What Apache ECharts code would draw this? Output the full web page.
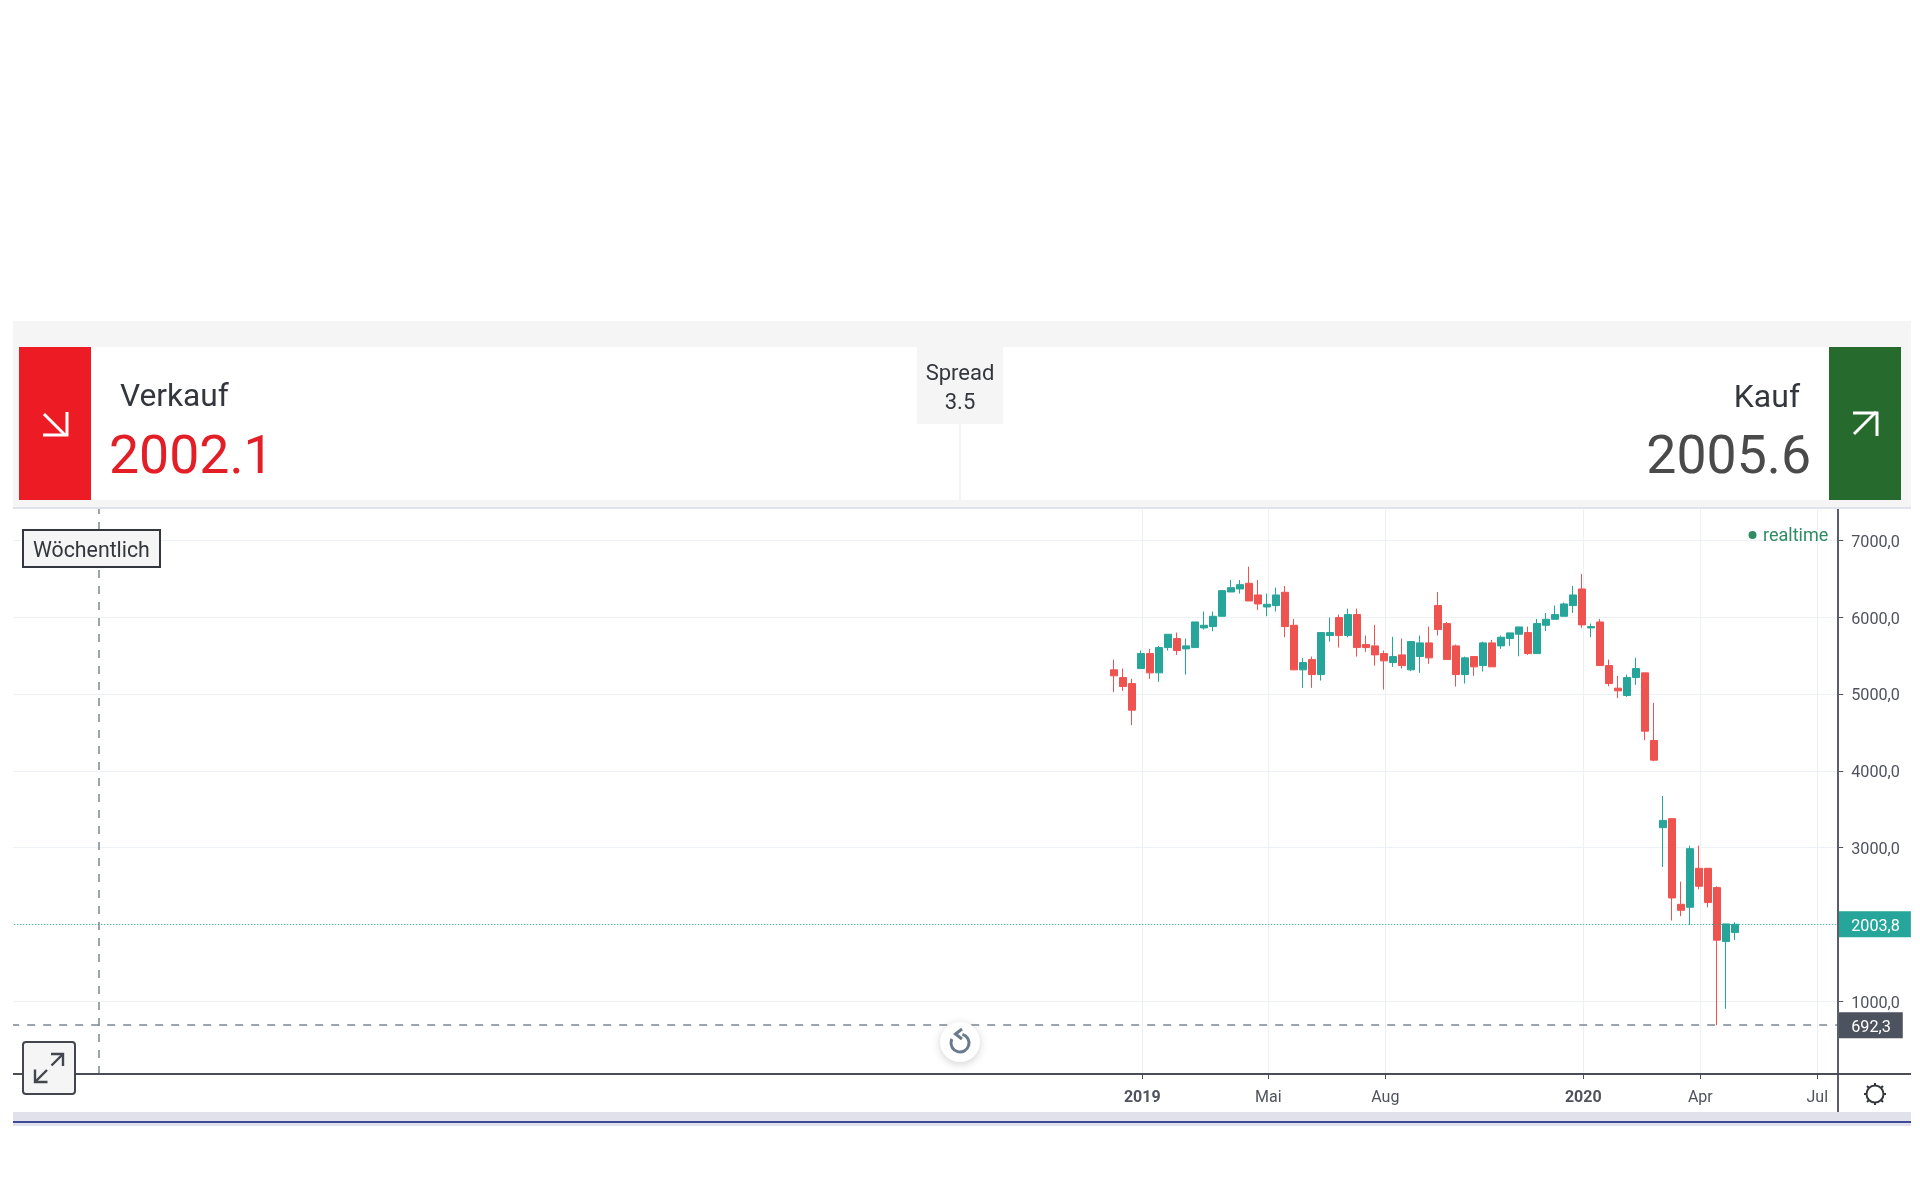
<!DOCTYPE html>
<html>
<head>
<meta charset="utf-8">
<title>Chart</title>
<script src="https://cdn.jsdelivr.net/npm/echarts@6/dist/echarts.min.js"></script>
<style>
html, body { margin: 0; padding: 0; background: #fff; }
#main { width: 1920px; height: 1200px; }
</style>
</head>
<body>
<div id="main"></div>
<script>
// weekly candles
var opens = [5312,5212,5134,5329,5524,5273,5602,5719,5585,5602,5858,5875,6009,6325,6364,6438,6286,6130,6148,6321,5892,5312,5446,5251,5758,5992,5758,6031,5641,5624,5524,5407,5507,5312,5485,5663,6148,5914,5624,5251,5485,5368,5663,5624,5719,5775,5797,5524,5892,5970,6009,6148,6364,5858,5935,5368,5074,4979,5212,5273,4394,3260,3377,2264,2225,2732,2732,2481,1779,1896];
var closes = [5234,5095,4788,5524,5273,5602,5775,5563,5624,5935,5892,6009,6342,6381,6420,6208,6169,6165,6286,5875,5312,5407,5251,5797,5797,5758,6031,5602,5602,5507,5429,5485,5368,5680,5663,5468,5836,5446,5251,5468,5351,5663,5351,5736,5793,5870,5524,5914,5970,6031,6169,6286,5897,5875,5368,5134,5039,5212,5329,4515,4138,3355,2346,2186,2987,2498,2286,1797,2009,2003.8];
var lows = [5022,5039,4593,5329,5195,5156,5563,5507,5251,5602,5836,5814,6009,6325,6304,6208,6091,6009,6070,5736,5312,5078,5078,5173,5680,5602,5736,5485,5546,5368,5056,5351,5329,5295,5273,5390,5758,5446,5095,5134,5234,5290,5351,5585,5624,5489,5507,5524,5819,5970,6009,6052,5858,5736,5368,5100,4944,4961,5117,4398,4125,2749,2052,2108,1996,2459,2225,692.3,905,1797];
var highs = [5446,5329,5195,5563,5585,5624,5775,5797,5719,5935,6070,6070,6342,6481,6481,6654,6481,6304,6381,6403,5974,5468,5485,5797,5992,6031,6109,6109,5758,5897,5563,5741,5719,5680,5758,5875,6325,5935,5641,5485,5485,5680,5702,5758,5793,5870,5875,5974,6052,6148,6187,6403,6559,5914,5974,5446,5234,5251,5468,5273,4883,3672,3377,2559,3026,3026,2732,2498,2009,2030];
var firstCandleSlot = 122;
var slotCount = 203;

var tickSlots = [125, 139, 152, 174, 187, 200];
var tickLabels = ['2019', 'Mai', 'Aug', '2020', 'Apr', 'Jul'];
var yTicks = [1000, 2000, 3000, 4000, 5000, 6000, 7000];
var lastPrice = 2003.8;
var lowPrice = 692.3;
var crossSlot = 9;

var slots = [];
var candles = [];
for (var i = 0; i < slotCount; i++) {
	slots.push(String(i));
	var c = i - firstCandleSlot;
	candles.push(c >= 0 && c < opens.length ? [opens[c], closes[c], lows[c], highs[c]] : '-');
}

function isTickSlot(index) {
	return tickSlots.indexOf(index) >= 0;
}
function comma(v) {
	return v.toFixed(1).replace('.', ',');
}

var font = 'Roboto';
function rect(x, y, w, h, fill, extra) {
	var s = { fill: fill };
	if (extra) { for (var k in extra) { s[k] = extra[k]; } }
	return { type: 'rect', z: 100, silent: true, shape: { x: x, y: y, width: w, height: h, r: (extra && extra.r) || 0 }, style: s };
}
function text(str, x, y, size, color, align) {
	return {
		type: 'text', z: 101, silent: true, x: x, y: y,
		style: { text: str, fill: color, font: size + 'px ' + font, align: align || 'left', verticalAlign: 'middle' }
	};
}
function poly(points, color, width) {
	return {
		type: 'polyline', z: 102, silent: true,
		shape: { points: points },
		style: { stroke: color, lineWidth: width, fill: null }
	};
}

var elements = [
	// header
	rect(13, 321, 1898, 186, '#f5f5f5'),
	rect(91, 347, 1738, 153, '#fff'),
	rect(917, 347, 86, 77, '#f5f5f5'),
	rect(959, 424, 2, 76, '#f3f3f3'),
	rect(13, 507, 1898, 2, '#e1e3ec'),
	rect(19, 347, 72, 153, '#ed1c24'),
	rect(1829, 347, 72, 153, '#266a2e'),
	rect(0, 509, 13, 566, '#fff'),
	poly([[44, 414], [65, 435]], '#fff', 3),
	poly([[43, 435], [67, 435], [67, 412]], '#fff', 3),
	poly([[1854, 434], [1876, 412]], '#fff', 3),
	poly([[1853, 413], [1877, 413], [1877, 436]], '#fff', 3),
	text('Verkauf', 120, 398.5, 31.7, '#33363d'),
	text('2002.1', 109, 460, 53.6, '#e31e26'),
	text('Spread', 960, 374.5, 22, '#33363d', 'center'),
	text('3.5', 960, 403.5, 22, '#33363d', 'center'),
	text('Kauf', 1800, 398.5, 32, '#33363d', 'right'),
	text('2005.6', 1811, 460, 53.6, '#4a4a4a', 'right'),

	// chart furniture
	rect(1837, 509, 2, 603, '#5b5e68'),
	rect(13, 1073, 1898, 2, '#4a4d57'),
	rect(13, 1112, 1898, 14, '#e1e1ec'),
	rect(13, 1121, 1898, 2, '#3f4a94'),

	rect(23, 530, 137, 37, '#f5f5f5', { stroke: '#33363d', lineWidth: 2 }),
	text('Wöchentlich', 33, 551.5, 21.3, '#33363d'),

	{ type: 'circle', z: 100, silent: true, shape: { cx: 1752.5, cy: 535, r: 4 }, style: { fill: '#2e8b62' } },
	text('realtime', 1763, 536.5, 18, '#2e8b62'),

	// expand button
	rect(23, 1042, 52, 52, '#f5f5f5', { stroke: '#43464e', lineWidth: 2, r: 3 }),
	poly([[51.5, 1065.5], [63, 1054]], '#43464e', 2.4),
	poly([[51, 1054], [63, 1054], [63, 1066]], '#43464e', 2.4),
	poly([[47, 1070], [35, 1082]], '#43464e', 2.4),
	poly([[35, 1069.5], [35, 1082], [47.5, 1082]], '#43464e', 2.4),

	// reset button
	{ type: 'circle', z: 100, silent: true, shape: { cx: 960, cy: 1042, r: 20 }, style: { fill: '#fff', shadowBlur: 8, shadowColor: 'rgba(0,0,0,0.18)', shadowOffsetY: 2 } },
	{ type: 'arc', z: 102, silent: true, shape: { cx: 960, cy: 1043, r: 9, startAngle: -1.3, endAngle: 3.6, clockwise: true }, style: { stroke: '#6a7a8c', lineWidth: 3, fill: null } },
	poly([[962, 1029], [955.5, 1034], [962, 1039]], '#6a7a8c', 3),

	// sun
	{ type: 'circle', z: 102, silent: true, shape: { cx: 1875, cy: 1094, r: 8.5 }, style: { stroke: '#33363d', lineWidth: 2, fill: null } },
	poly([[1875, 1083], [1875, 1086]], '#33363d', 2),
	poly([[1875, 1102], [1875, 1105]], '#33363d', 2),
	poly([[1864, 1094], [1867, 1094]], '#33363d', 2),
	poly([[1883, 1094], [1886, 1094]], '#33363d', 2),
	poly([[1867, 1086], [1869, 1088]], '#33363d', 2),
	poly([[1883, 1086], [1881, 1088]], '#33363d', 2),
	poly([[1867, 1102], [1869, 1100]], '#33363d', 2),
	poly([[1883, 1102], [1881, 1100]], '#33363d', 2)
];

var option = {
	animation: false,
	backgroundColor: '#fff',
	textStyle: { fontFamily: font },
	graphic: { elements: elements },
	// grid 0 holds gridlines and date ticks, grid 1 the candles and price scale
	grid: [
		{ left: 12.8, top: 501.6, width: 1827, height: 576.8 },
		{ left: 11.2, top: 501.6, width: 1827, height: 576.8 }
	],
	xAxis: [ {
		type: 'category',
		gridIndex: 0,
		data: slots,
		offset: -4.4,
		axisLine: { show: false },
		axisTick: {
			show: true,
			alignWithLabel: true,
			interval: function (index) { return isTickSlot(index); },
			length: 5,
			lineStyle: { color: '#4a4d57', width: 1 }
		},
		axisLabel: {
			show: true,
			interval: function (index) { return isTickSlot(index); },
			margin: 16,
			color: '#50535e',
			fontSize: 16,
			formatter: function (value, index) {
				var label = tickLabels[tickSlots.indexOf(index)];
				return /^20/.test(label) ? '{year|' + label + '}' : label;
			},
			rich: { year: { fontWeight: 'bold', fontSize: 16, color: '#50535e', fontFamily: font } }
		},
		splitLine: {
			show: true,
			alignWithLabel: true,
			interval: function (index) { return isTickSlot(index); },
			lineStyle: { color: '#edf1f6', width: 1 }
		}
	}, {
		type: 'category',
		gridIndex: 1,
		data: slots,
		show: false
	} ],
	yAxis: [ {
		type: 'value',
		gridIndex: 0,
		position: 'right',
		min: 0,
		max: 7500,
		axisLine: { show: false },
		axisLabel: { show: false },
		axisTick: { show: false, customValues: yTicks },
		splitLine: {
			show: true,
			lineStyle: { color: '#edf1f6', width: 1 }
		}
	}, {
		type: 'value',
		gridIndex: 1,
		position: 'right',
		min: 0,
		max: 7500,
		axisLine: { show: false },
		axisTick: {
			show: true,
			customValues: yTicks,
			length: 5,
			lineStyle: { color: '#50535e', width: 1 }
		},
		axisLabel: {
			show: true,
			customValues: yTicks,
			margin: 13,
			formatter: function (value) { return '{v|' + comma(value) + '}'; },
			rich: { v: { color: '#50535e', fontSize: 16.2, fontFamily: font, padding: [5, 0, 0, 0] } }
		},
		splitLine: { show: false }
	} ],
	series: [ {
		name: 'Fadenkreuz',
		type: 'line',
		xAxisIndex: 0,
		yAxisIndex: 0,
		data: [],
		symbol: 'none',
		silent: true,
		markLine: {
			symbol: 'none',
			silent: true,
			label: { show: false },
			lineStyle: { color: '#7d8790', type: [8, 8], width: 1.5 },
			data: [ [ { coord: [crossSlot, 57] }, { coord: [crossSlot, 7500] } ] ]
		}
	}, {
		name: 'Wöchentlich',
		type: 'candlestick',
		xAxisIndex: 1,
		yAxisIndex: 1,
		barWidth: 7.4,
		data: candles,
		itemStyle: {
			color: '#26a69a',
			color0: '#ef5350',
			borderColor: '#26a69a',
			borderColor0: '#ef5350',
			borderWidth: 1
		},
		markLine: {
			symbol: 'none',
			silent: true,
			data: [ {
				yAxis: lastPrice,
				lineStyle: { color: '#26a69a', type: [1, 2], width: 1 },
				label: {
					show: true,
					position: 'end',
					distance: 0,
					formatter: '{t|' + comma(lastPrice) + '}',
					rich: { t: { color: '#fff', fontSize: 16.2, fontFamily: font, padding: [5, 0, 0, 0] } },
					backgroundColor: '#26a69a',
					padding: [3, 11, 2, 13]
				}
			}, {
				yAxis: lowPrice,
				lineStyle: { color: '#7d8790', type: [8, 8], width: 1.5 },
				label: {
					show: true,
					position: 'end',
					distance: 0,
					formatter: '{t|' + comma(lowPrice) + '}',
					rich: { t: { color: '#fff', fontSize: 16.2, fontFamily: font, padding: [5, 0, 0, 0] } },
					backgroundColor: '#4c525e',
					padding: [3, 12, 2, 13]
				}
			} ]
		}
	} ]
};

var chart = echarts.init(document.getElementById('main'));
chart.setOption(option);
</script>
</body>
</html>
